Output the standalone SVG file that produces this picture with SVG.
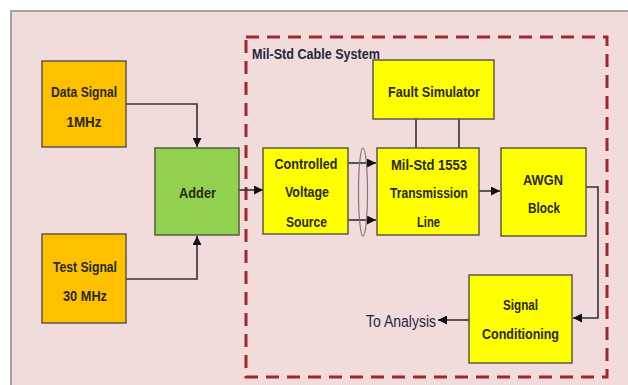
<svg xmlns="http://www.w3.org/2000/svg" width="628" height="385" viewBox="0 0 628 385">
<style>
.box{stroke:#5a5a4a;stroke-width:1.5}
.orange{fill:#ffc000}
.green{fill:#92d050}
.yellow{fill:#ffff00}
.t{font-family:"Liberation Sans",Arial,sans-serif;font-size:15px;font-weight:bold;fill:#2a2a10;text-anchor:middle}
.lbl{font-family:"Liberation Sans",Arial,sans-serif;fill:#1f2840}
.wire{fill:none;stroke:#333;stroke-width:1.6}
</style>
<defs>
<marker id="ah" viewBox="0 0 10 10" refX="10" refY="5" markerWidth="9" markerHeight="9" markerUnits="userSpaceOnUse" orient="auto">
<path d="M0,0 L10,5 L0,10 z" fill="#111"/>
</marker>
</defs>
<rect x="0" y="0" width="628" height="385" fill="#ffffff"/>
<rect x="11" y="11" width="640" height="400" fill="#f2dcdb" stroke="#8a8a8a" stroke-width="1.5"/>
<g id="cable-system">
<rect x="246" y="37" width="361" height="340" fill="none" stroke="#a0282d" stroke-width="3" stroke-dasharray="13 8"/>
<text class="lbl" x="252" y="59" font-size="15" font-weight="bold" textLength="128" lengthAdjust="spacingAndGlyphs">Mil-Std Cable System</text>
</g>
<g id="connectors">
<path class="wire" d="M126,104 H197 V147" marker-end="url(#ah)"/>
<path class="wire" d="M126,279 H197 V236" marker-end="url(#ah)"/>
<path class="wire" d="M239,190 H263" marker-end="url(#ah)"/>
<path class="wire" d="M348,163 H376" marker-end="url(#ah)"/>
<path class="wire" d="M348,220 H376" marker-end="url(#ah)"/>
<ellipse cx="363" cy="192" rx="4.5" ry="44" fill="none" stroke="#7a7a7a" stroke-width="1.2"/>
<path class="wire" d="M416,119 V148 M459,119 V148"/>
<path class="wire" d="M479,191 H500" marker-end="url(#ah)"/>
<path class="wire" d="M586,187 H598 V318 H573" marker-end="url(#ah)"/>
<path class="wire" d="M469,320 H438" marker-end="url(#ah)"/>
</g>
<g id="data-signal">
<rect class="box orange" x="42" y="61" width="84" height="86"/>
<text class="t" x="84" y="97" textLength="66" lengthAdjust="spacingAndGlyphs">Data Signal</text>
<text class="t" x="84" y="127" textLength="35" lengthAdjust="spacingAndGlyphs">1MHz</text>
</g>
<g id="test-signal">
<rect class="box orange" x="42" y="234" width="84" height="89"/>
<text class="t" x="85" y="272" textLength="64" lengthAdjust="spacingAndGlyphs">Test Signal</text>
<text class="t" x="85" y="301" textLength="44" lengthAdjust="spacingAndGlyphs">30 MHz</text>
</g>
<g id="adder">
<rect class="box green" x="155" y="148" width="84" height="87"/>
<text class="t" x="197.5" y="198" textLength="37" lengthAdjust="spacingAndGlyphs">Adder</text>
</g>
<g id="cvs">
<rect class="box yellow" x="263" y="148" width="85" height="86"/>
<text class="t" x="306" y="169" textLength="63" lengthAdjust="spacingAndGlyphs">Controlled</text>
<text class="t" x="307" y="197" textLength="44" lengthAdjust="spacingAndGlyphs">Voltage</text>
<text class="t" x="306.5" y="227" textLength="41" lengthAdjust="spacingAndGlyphs">Source</text>
</g>
<g id="fault-simulator">
<rect class="box yellow" x="373" y="60" width="121" height="59"/>
<text class="t" x="434" y="97" textLength="92" lengthAdjust="spacingAndGlyphs">Fault Simulator</text>
</g>
<g id="mil-std-1553">
<rect class="box yellow" x="377" y="148" width="102" height="87"/>
<text class="t" x="429" y="170" textLength="76" lengthAdjust="spacingAndGlyphs">Mil-Std 1553</text>
<text class="t" x="429" y="198" textLength="78" lengthAdjust="spacingAndGlyphs">Transmission</text>
<text class="t" x="428.5" y="227" textLength="23" lengthAdjust="spacingAndGlyphs">Line</text>
</g>
<g id="awgn">
<rect class="box yellow" x="501" y="148" width="85" height="88"/>
<text class="t" x="543" y="185" textLength="40" lengthAdjust="spacingAndGlyphs">AWGN</text>
<text class="t" x="544" y="213" textLength="32" lengthAdjust="spacingAndGlyphs">Block</text>
</g>
<g id="signal-conditioning">
<rect class="box yellow" x="469" y="275" width="103" height="88"/>
<text class="t" x="520.5" y="310" textLength="35" lengthAdjust="spacingAndGlyphs">Signal</text>
<text class="t" x="520.5" y="339" textLength="77" lengthAdjust="spacingAndGlyphs">Conditioning</text>
</g>
<g id="to-analysis">
<text class="lbl" x="366" y="327" font-size="16" textLength="70" lengthAdjust="spacingAndGlyphs">To Analysis</text>
</g>
</svg>
